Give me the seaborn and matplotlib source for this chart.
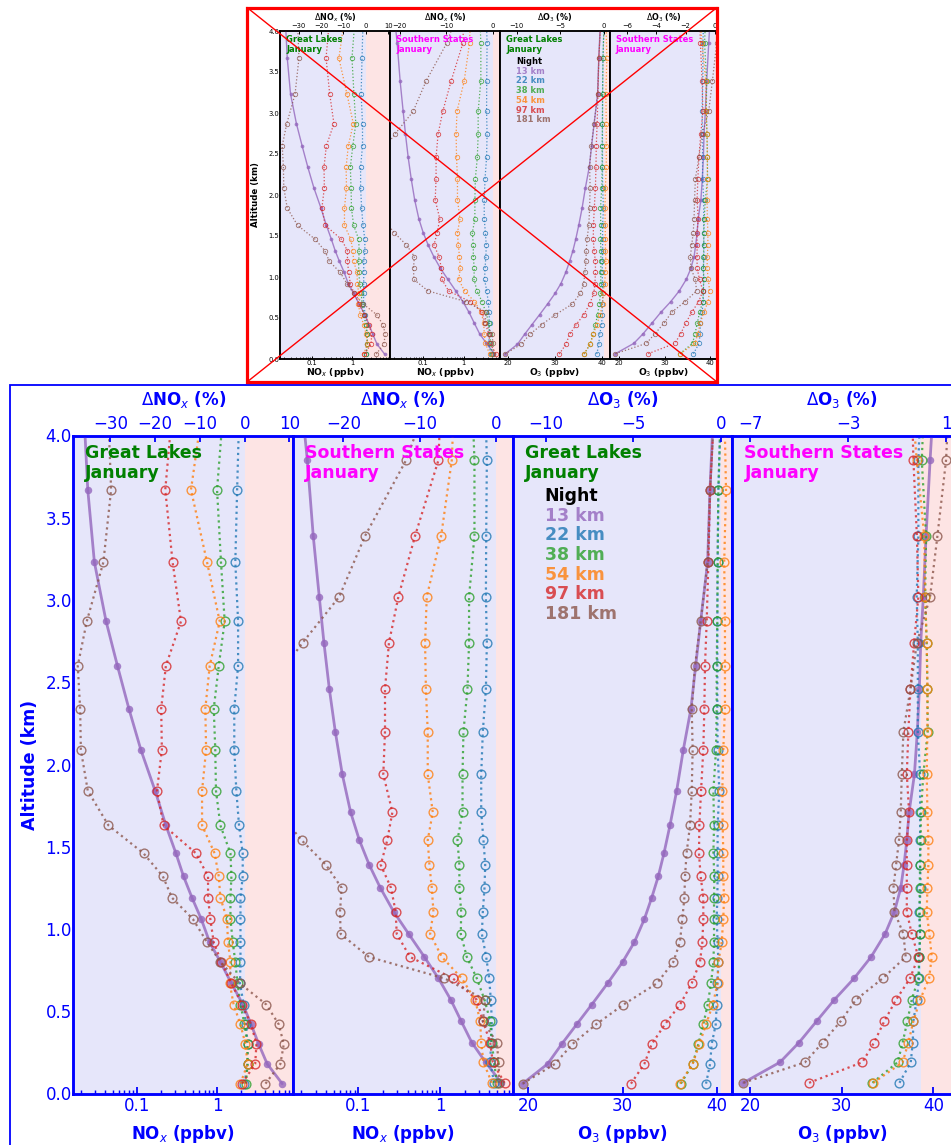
import numpy as np
import matplotlib
matplotlib.use("Agg")
import matplotlib.pyplot as plt
import seaborn as sns
from matplotlib.patches import Rectangle
from matplotlib.lines import Line2D
from matplotlib.ticker import NullFormatter

sns.set_style("white")
plt.rcParams["font.family"] = ["DejaVu Sans"]
plt.rcParams["mathtext.fontset"] = "dejavusans"

# ---------------- data ----------------
series_names = ["13 km", "22 km", "38 km", "54 km", "97 km", "181 km"]
series_colors = ["#9467bd", "#1f77b4", "#2ca02c", "#ff7f0e", "#d62728", "#8c564b"]

alt_gl = [0.06, 0.18, 0.30, 0.42, 0.54, 0.67, 0.80, 0.92, 1.06, 1.19, 1.32,
          1.46, 1.63, 1.84, 2.09, 2.34, 2.60, 2.87, 3.23, 3.67, 4.05]
alt_ss = [0.065, 0.19, 0.31, 0.44, 0.57, 0.70, 0.83, 0.97, 1.105, 1.25, 1.39,
          1.54, 1.71, 1.94, 2.20, 2.46, 2.74, 3.02, 3.39, 3.85, 4.05]

# Great Lakes NOx (ppbv)
gl_nox_13 = [6.49, 4.22, 3.31, 2.66, 2.11, 1.51, 1.10, 0.808, 0.636, 0.487, 0.382,
             0.307, 0.230, 0.169, 0.112, 0.0794, 0.0572, 0.0413, 0.0295, 0.0244, 0.0223]
gl_nox_22 = [2.2, 2.4, 2.4, 2.3, 2.15, 1.93, 1.96, 1.96, 1.96, 1.96, 2.09,
             2.09, 1.88, 1.74, 1.64, 1.64, 1.83, 1.83, 1.69, 1.78, 1.87]
gl_nox_38 = [2.3, 2.4, 2.4, 2.2, 1.96, 1.8, 1.69, 1.57, 1.47, 1.47, 1.51,
             1.47, 1.10, 0.97, 0.95, 0.91, 1.05, 1.245, 1.12, 1.0, 1.15]
gl_nox_54 = [1.96, 2.4, 2.26, 1.96, 1.61, 1.44, 1.47, 1.37, 1.33, 1.10, 1.05,
             0.933, 0.65, 0.65, 0.73, 0.714, 0.81, 1.08, 0.75, 0.473, 0.61]
gl_nox_97 = [2.05, 2.99, 3.10, 2.66, 2.05, 1.51, 1.13, 0.907, 0.825, 0.772, 0.772,
             0.546, 0.215, 0.178, 0.205, 0.201, 0.230, 0.355, 0.279, 0.226, 0.265]
gl_nox_181 = [4.02, 6.17, 6.80, 5.89, 4.13, 1.92, 1.10, 0.75, 0.50, 0.274, 0.211,
              0.121, 0.0442, 0.0244, 0.0200, 0.0196, 0.0183, 0.0237, 0.0382, 0.0477, 0.0446]

# Southern States NOx (ppbv)
ss_nox_13 = [5.6, 3.6, 2.44, 1.81, 1.35, 0.955, 0.643, 0.413, 0.271, 0.186, 0.136,
             0.103, 0.0805, 0.0637, 0.0523, 0.0442, 0.038, 0.0333, 0.0281, 0.0238, 0.0217]
ss_nox_22 = [4.58, 4.1, 4.2, 4.29, 4.17, 3.98, 3.66, 3.24, 3.33, 3.49, 3.56,
             3.39, 3.18, 3.18, 3.33, 3.63, 3.73, 3.63, 3.66, 3.73, 3.64]
ss_nox_38 = [4.94, 4.58, 4.29, 4.1, 3.49, 2.81, 2.12, 1.79, 1.81, 1.72, 1.72,
             1.63, 1.88, 1.88, 1.93, 2.16, 2.26, 2.26, 2.63, 2.63, 2.54]
ss_nox_54 = [4.29, 3.39, 3.18, 3.09, 2.68, 1.84, 1.05, 0.755, 0.829, 0.791, 0.74,
             0.706, 0.813, 0.706, 0.706, 0.67, 0.655, 0.687, 1.03, 1.39, 1.44]
ss_nox_97 = [6.13, 4.4, 4.1, 3.33, 2.81, 1.43, 0.429, 0.295, 0.286, 0.251, 0.188,
             0.226, 0.261, 0.202, 0.212, 0.212, 0.237, 0.309, 0.494, 0.954, 0.99]
ss_nox_181 = [5.3, 5.18, 4.94, 3.33, 3.56, 1.13, 0.135, 0.0608, 0.0597, 0.0625, 0.0402,
              0.0202, 0.0107, 0.008, 0.007, 0.008, 0.0208, 0.0585, 0.121, 0.384, 0.538]

# Great Lakes O3 (ppbv)
gl_o3_13 = [19.4, 22.05, 23.54, 25.13, 26.73, 28.42, 30.02, 31.26, 32.32, 33.1, 33.8,
            34.4, 35.04, 35.75, 36.46, 37.27, 37.77, 38.3, 39.04, 39.29, 39.58]
gl_o3_22 = [38.87, 39.3, 39.47, 39.9, 40.0, 40.07, 40.18, 40.1, 40.0, 40.07, 40.1,
            40.1, 40.1, 40.28, 40.1, 40.07, 40.07, 40.07, 40.1, 40.18, 40.38]
gl_o3_38 = [36.2, 37.45, 38.05, 38.58, 39.04, 39.4, 39.65, 39.72, 39.72, 39.72, 39.75,
            39.65, 39.72, 39.65, 39.93, 40.0, 40.0, 40.07, 40.1, 40.18, 40.38]
gl_o3_54 = [36.1, 37.45, 38.16, 38.87, 39.58, 40.1, 40.18, 40.53, 40.7, 40.78, 40.7,
            40.7, 40.64, 40.6, 40.7, 40.88, 40.88, 40.88, 40.8, 40.99, 40.86]
gl_o3_97 = [30.9, 32.32, 33.1, 34.5, 36.1, 37.35, 38.23, 38.48, 38.58, 38.58, 38.3,
            38.12, 38.16, 38.34, 38.58, 38.69, 38.76, 38.94, 39.12, 39.3, 39.65]
gl_o3_181 = [19.4, 22.83, 24.67, 27.19, 30.09, 33.66, 35.4, 36.1, 36.35, 36.57, 36.64,
             36.8, 37.17, 37.35, 37.45, 37.35, 37.7, 38.3, 39.04, 39.3, 39.65]

# Southern States O3 (ppbv)
ss_o3_13 = [19.27, 23.27, 25.35, 27.27, 29.2, 31.35, 33.2, 34.73, 35.75, 36.44, 36.8,
            37.1, 37.35, 37.93, 38.25, 38.47, 38.62, 38.9, 39.2, 39.64, 39.85]
ss_o3_22 = [36.3, 37.53, 37.75, 37.82, 38.18, 38.44, 38.44, 38.55, 38.44, 38.62, 38.55,
            38.55, 38.55, 38.55, 38.3, 38.3, 38.3, 38.18, 38.36, 38.36, 38.5]
ss_o3_38 = [33.35, 36.1, 36.65, 37.16, 37.64, 38.36, 38.47, 38.55, 38.5, 38.5, 38.55,
            38.6, 38.65, 38.9, 39.38, 39.35, 39.27, 39.1, 39.2, 38.73, 38.88]
ss_o3_54 = [33.45, 36.65, 37.27, 37.82, 38.55, 39.53, 39.82, 39.56, 39.27, 39.35, 39.45,
            39.45, 39.35, 39.27, 39.35, 39.35, 39.27, 39.1, 39.0, 38.18, 37.9]
ss_o3_97 = [26.44, 32.25, 33.53, 34.65, 35.93, 37.45, 38.36, 37.64, 37.1, 37.1, 37.1,
            37.1, 37.35, 37.1, 37.27, 37.5, 37.9, 38.36, 38.2, 37.82, 37.73]
ss_o3_181 = [19.27, 26.0, 27.93, 29.9, 31.56, 34.47, 36.98, 36.73, 35.75, 35.64, 35.93,
             36.25, 36.44, 36.55, 36.73, 37.5, 38.2, 39.64, 40.44, 41.38, 41.55]

gl_nox = [gl_nox_13, gl_nox_22, gl_nox_38, gl_nox_54, gl_nox_97, gl_nox_181]
ss_nox = [ss_nox_13, ss_nox_22, ss_nox_38, ss_nox_54, ss_nox_97, ss_nox_181]
gl_o3 = [gl_o3_13, gl_o3_22, gl_o3_38, gl_o3_54, gl_o3_97, gl_o3_181]
ss_o3 = [ss_o3_13, ss_o3_22, ss_o3_38, ss_o3_54, ss_o3_97, ss_o3_181]

y_ticks = [0.0, 0.5, 1.0, 1.5, 2.0, 2.5, 3.0, 3.5, 4.0]

# ---------------- figure ----------------
W, H = 951, 1145
fig = plt.figure(figsize=(W / 100, H / 100), dpi=100)
LAV = "#e6e6fa"
PINK = "#fde4e4"


def px_rect(l, t, w, h):
    return [l / W, 1 - (t + h) / H, w / W, h / H]


nox_lab = r"NO$_x$ (ppbv)"
dnox_lab = r"$\Delta$NO$_x$ (%)"
o3_lab = r"O$_3$ (ppbv)"
do3_lab = r"$\Delta$O$_3$ (%)"

main_specs = [
    dict(alt=alt_gl, data=gl_nox, log=True, xlim=(0.0161, 8.86), tlim=(-38.3, 10.8),
         tticks=[-30, -20, -10, 0, 10], xticks=[0.1, 1], xtl=["0.1", "1"],
         xlabel=nox_lab, tlabel=dnox_lab, region="Great Lakes", rc="green", legend=False),
    dict(alt=alt_ss, data=ss_nox, log=True, xlim=(0.0159, 7.72), tlim=(-26.6, 2.2),
         tticks=[-20, -10, 0], xticks=[0.1, 1], xtl=["0.1", "1"],
         xlabel=nox_lab, tlabel=dnox_lab, region="Southern States", rc="magenta", legend=False),
    dict(alt=alt_gl, data=gl_o3, log=False, xlim=(18.34, 41.67), tlim=(-11.89, 0.67),
         tticks=[-10, -5, 0], xticks=[20, 30, 40], xtl=["20", "30", "40"],
         xlabel=o3_lab, tlabel=do3_lab, region="Great Lakes", rc="green", legend=True),
    dict(alt=alt_ss, data=ss_o3, log=False, xlim=(18.08, 42.04), tlim=(-7.72, 1.25),
         tticks=[-7, -3, 1], xticks=[20, 30, 40], xtl=["20", "30", "40"],
         xlabel=o3_lab, tlabel=do3_lab, region="Southern States", rc="magenta", legend=False),
]

thumb_specs = [dict(s) for s in main_specs]
thumb_specs[1]["tlim"] = (-22.1, 1.6)
thumb_specs[3]["tlim"] = (-7.14, 0.14)
thumb_specs[3]["tticks"] = [-6, -4, -2, 0]
thumb_specs[3]["xlim"] = (18.08, 41.45)

main_style = dict(c="blue", fs_tick=12, fs_x=12, fs_t=12, fs_y=12.5, fs_text=12.5,
                  lw_sp=1.8, tl=5, tw=1.3, lw_solid=2.0, ms_fill=5.4, ms_open=6.3,
                  mew=1.0, lw_dot=1.6, pad_t=2, pad_b=2.5, pad_y=-3.0, lp_t=7, lp_b=6,
                  lp_y=5, y_dir="out")
thumb_style = dict(c="black", fs_tick=4.9, fs_x=6.7, fs_t=5.8, fs_y=6.2, fs_text=6.0,
                   lw_sp=1.1, tl=2.5, tw=0.7, lw_solid=1.0, ms_fill=2.7, ms_open=3.2,
                   mew=0.6, lw_dot=0.9, pad_t=1.5, pad_b=1.0, pad_y=-1.5, lp_t=2, lp_b=0,
                   lp_y=6, y_dir="out")

legend_y = [0.908, 0.878, 0.849, 0.818, 0.788, 0.759, 0.729]


def draw_chart(lefts, widths, top, height, specs, st):
    for i, (l, w, sp) in enumerate(zip(lefts, widths, specs)):
        ax = fig.add_axes(px_rect(l, top, w, height))
        ax.set_facecolor("none")
        if sp["log"]:
            ax.set_xscale("log")
        tlo, thi = sp["tlim"]
        f0 = (0 - tlo) / (thi - tlo)
        ax.add_patch(Rectangle((0, 0), f0, 1, transform=ax.transAxes,
                               facecolor=LAV, edgecolor="none", zorder=0))
        ax.add_patch(Rectangle((f0, 0), 1 - f0, 1, transform=ax.transAxes,
                               facecolor=PINK, edgecolor="none", zorder=0))
        for j, name in enumerate(series_names):
            col = series_colors[j]
            if j == 0:
                sns.lineplot(x=sp["data"][j], y=sp["alt"], orient="y", sort=True,
                             estimator=None, errorbar=None, ax=ax, color=col,
                             linewidth=st["lw_solid"], linestyle="-", marker="o",
                             markersize=st["ms_fill"], markerfacecolor=col,
                             markeredgecolor=col, markeredgewidth=0,
                             alpha=0.8, zorder=3)
            else:
                sns.lineplot(x=sp["data"][j], y=sp["alt"], orient="y", sort=True,
                             estimator=None, errorbar=None, ax=ax, color=col,
                             linewidth=st["lw_dot"], linestyle=":", marker="o",
                             markersize=st["ms_open"], markerfacecolor="none",
                             markeredgecolor=col, markeredgewidth=st["mew"],
                             alpha=0.8, zorder=4)
        ax.set_xlim(*sp["xlim"])
        ax.set_ylim(0, 4)
        ax.set_xticks(sp["xticks"])
        ax.set_xticklabels(sp["xtl"])
        ax.xaxis.set_minor_formatter(NullFormatter())
        ax.set_yticks(y_ticks)
        ax.set_yticklabels([f"{t:.1f}" for t in y_ticks])
        ax.set_xlabel(sp["xlabel"], color=st["c"], fontsize=st["fs_x"],
                      fontweight="bold", labelpad=st["lp_b"])
        ax.tick_params(axis="x", which="major", direction="in", length=st["tl"],
                       width=st["tw"], colors=st["c"], labelsize=st["fs_tick"],
                       pad=st["pad_b"], top=False)
        ax.tick_params(axis="x", which="minor", direction="in", length=st["tl"] * 0.55,
                       width=st["tw"] * 0.8, colors=st["c"], top=False)
        if i == 0:
            ax.tick_params(axis="y", direction=st["y_dir"], length=st["tl"] * 0.8,
                           width=st["tw"], colors=st["c"], labelsize=st["fs_tick"],
                           pad=st["pad_y"])
            ax.set_ylabel("Altitude (km)", color=st["c"], fontsize=st["fs_y"],
                          fontweight="bold", labelpad=st["lp_y"])
        else:
            ax.tick_params(axis="y", direction="in", length=st["tl"], width=st["tw"],
                           colors=st["c"], labelleft=False)
            ax.set_ylabel("")
        for s in ax.spines.values():
            s.set_color(st["c"])
            s.set_linewidth(st["lw_sp"])

        axT = ax.twiny()
        axT.set_xlim(tlo, thi)
        axT.set_xticks(sp["tticks"])
        axT.tick_params(axis="x", direction="in", length=st["tl"] * 0.8, width=st["tw"],
                        colors=st["c"], labelsize=st["fs_tick"], pad=st["pad_t"])
        axT.set_xlabel(sp["tlabel"], color=st["c"], fontsize=st["fs_t"],
                       fontweight="bold", labelpad=st["lp_t"])
        for s in axT.spines.values():
            s.set_color(st["c"])
            s.set_linewidth(st["lw_sp"])

        ax.text(0.055, 0.973, sp["region"], transform=ax.transAxes, color=sp["rc"],
                fontsize=st["fs_text"], fontweight="bold", ha="left", va="center", zorder=6)
        ax.text(0.055, 0.943, "January", transform=ax.transAxes, color=sp["rc"],
                fontsize=st["fs_text"], fontweight="bold", ha="left", va="center", zorder=6)
        if sp["legend"]:
            ax.text(0.145, legend_y[0], "Night", transform=ax.transAxes, color="black",
                    fontsize=st["fs_text"], fontweight="bold", ha="left", va="center",
                    zorder=6)
            for j, name in enumerate(series_names):
                ax.text(0.145, legend_y[j + 1], name, transform=ax.transAxes,
                        color=series_colors[j], alpha=0.8, fontsize=st["fs_text"],
                        fontweight="bold", ha="left", va="center", zorder=6)


# main (large) chart
draw_chart([73.3, 293.0, 512.7, 732.4], [219.7] * 4, 435.5, 658, main_specs, main_style)

# blue frame around the main chart
fig.add_artist(Rectangle((9.5 / W, -0.1), 2.0, 1 - 384.5 / H + 0.1,
                         transform=fig.transFigure, fill=False, edgecolor="blue",
                         linewidth=1.3, zorder=5))

# thumbnail chart
draw_chart([280, 390, 500, 610], [110, 110, 110, 107], 31, 328, thumb_specs, thumb_style)

# red frame and cross over the thumbnail
x0, x1, y0, y1 = 247, 717, 7.5, 382
fig.add_artist(Rectangle((x0 / W, 1 - y1 / H), (x1 - x0) / W, (y1 - y0) / H,
                         transform=fig.transFigure, fill=False, edgecolor="red",
                         linewidth=2.3, zorder=10))
fig.add_artist(Line2D([x0 / W, x1 / W], [1 - y0 / H, 1 - y1 / H],
                      transform=fig.transFigure, color="red", linewidth=1.0, zorder=10))
fig.add_artist(Line2D([x0 / W, x1 / W], [1 - y1 / H, 1 - y0 / H],
                      transform=fig.transFigure, color="red", linewidth=1.0, zorder=10))

fig.savefig("out.png", dpi=100)
